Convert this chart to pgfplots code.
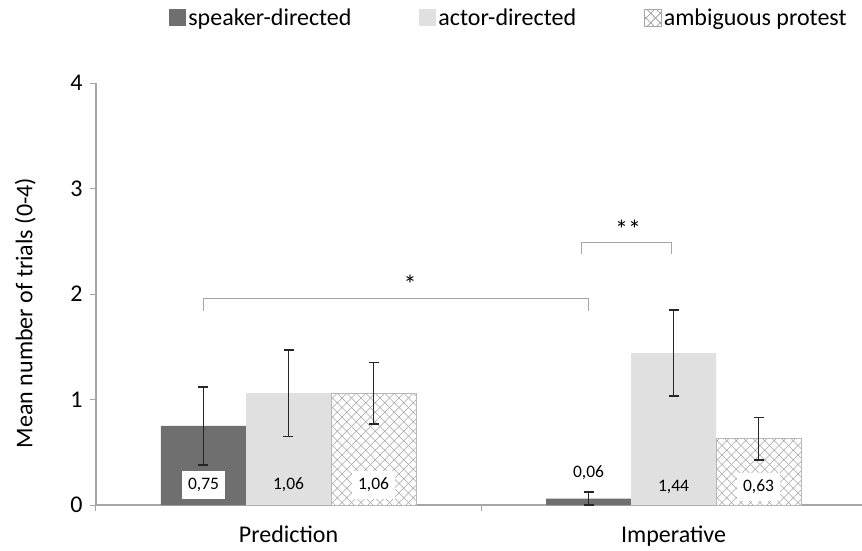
\documentclass[border=0pt]{standalone}
\usepackage{pgfplots}
\pgfplotsset{compat=1.18}
\usepackage{fontspec}
\setmainfont{Carlito}
\usetikzlibrary{patterns}
\pgfdeclarepatternformonly{mycross}{\pgfqpoint{-1pt}{-1pt}}{\pgfqpoint{10.5pt}{10.5pt}}{\pgfqpoint{9.5pt}{9.5pt}}{%
  \pgfsetlinewidth{0.6pt}%
  \pgfpathmoveto{\pgfqpoint{0pt}{0pt}}\pgfpathlineto{\pgfqpoint{9.5pt}{9.5pt}}%
  \pgfpathmoveto{\pgfqpoint{0pt}{9.5pt}}\pgfpathlineto{\pgfqpoint{9.5pt}{0pt}}%
  \pgfusepath{stroke}}
\definecolor{speaker}{HTML}{6F6F6F}
\definecolor{actor}{HTML}{E0E0E0}
\definecolor{axgray}{HTML}{A6A6A6}
\definecolor{hatch}{HTML}{A6A6A6}
\definecolor{errc}{HTML}{262626}
\begin{document}
\begin{tikzpicture}
\begin{axis}[
  at={(0,0)}, anchor=south west,
  width=770pt, height=422pt, scale only axis,
  xmin=-0.5, xmax=1.5, ymin=0, ymax=4,
  ybar=0pt, bar width=85pt,
  axis x line=bottom, axis y line=left,
  axis line style={axgray, line width=1.2pt, -},
  xtick={-0.5,0.5,1.5}, xticklabels={},
  extra x ticks={0,1}, extra x tick labels={Prediction,Imperative},
  extra x tick style={major tick length=0pt},
  ytick={0,1,2,3,4},
  tick style={axgray, line width=1pt},
  tick align=outside, major tick length=6pt,
  /pgf/number format/assume math mode=true,
  ticklabel style={font=\fontsize{24}{28}\selectfont, text=black},
  xticklabel style={yshift=-17pt},
  yticklabel style={xshift=-4pt},
  ylabel={Mean number of trials (0-4)},
  ylabel style={at={(axis description cs:-0.092,0.455)}, anchor=center, rotate=0, font=\fontsize{24}{28}\selectfont},
  legend style={at={(axis description cs:0.095,1.155)}, anchor=west, draw=none, fill=none,
    inner sep=0pt, font=\fontsize{24}{28}\selectfont,
    /tikz/every even column/.append style={column sep=66pt}},
  legend columns=-1,
  error bars/y dir=both, error bars/y explicit,
  error bars/error bar style={line width=1.8pt, errc},
  error bars/error mark options={rotate=90, line width=1.8pt, mark size=5pt, errc},
  clip=false,
]
\addplot[fill=speaker, draw=none,
  legend image code/.code={\fill[speaker] (0pt,-8.5pt) rectangle (17pt,8.5pt);}]
  coordinates {(0,0.75) +- (0,0.37) (1,0.06) +- (0,0.06)};
\addlegendentry{speaker-directed}
\addplot[fill=actor, draw=none,
  legend image code/.code={\fill[actor] (0pt,-8.5pt) rectangle (17pt,8.5pt);}]
  coordinates {(0,1.06) +- (0,0.41) (1,1.44) +- (0,0.41)};
\addlegendentry{actor-directed}
\addplot[fill=white, draw=axgray!80, line width=0.6pt, postaction={pattern=mycross, pattern color=hatch},
  legend image code/.code={\draw[fill=white, draw=axgray, line width=0.6pt, postaction={pattern=mycross, pattern color=hatch}] (0pt,-8.5pt) rectangle (17pt,8.5pt);}]
  coordinates {(0,1.06) +- (0,0.29) (1,0.63) +- (0,0.20)};
\addlegendentry{ambiguous protest}

% data labels
\tikzset{lbl/.style={font=\fontsize{17.5}{20}\selectfont, inner sep=0pt, minimum width=43pt, minimum height=28pt}}
\node[lbl, fill=white, xshift=-85pt] at (axis cs:0,0.19) {0,75};
\node[lbl] at (axis cs:0,0.19) {1,06};
\node[lbl, fill=white, xshift=85pt] at (axis cs:0,0.19) {1,06};
\node[lbl, xshift=-85pt] at (axis cs:1,0.31) {0,06};
\node[lbl] at (axis cs:1,0.17) {1,44};
\node[lbl, fill=white, xshift=85pt] at (axis cs:1,0.17) {0,63};

% significance brackets
\draw[axgray, line width=1.2pt] (axis cs:-0.221,1.84) -- (axis cs:-0.221,1.96) -- (axis cs:0.779,1.96) -- (axis cs:0.779,1.84);
\node[font=\fontsize{26}{30}\selectfont] at (axis cs:0.316,2.09) {*};
\draw[axgray, line width=1.2pt] (axis cs:0.76,2.38) -- (axis cs:0.76,2.486) -- (axis cs:0.995,2.486) -- (axis cs:0.995,2.38);
\node[font=\fontsize{26}{30}\selectfont] at (axis cs:0.882,2.61) {**};
\end{axis}
\pgfresetboundingbox
\path[use as bounding box] (-96pt,-45pt) rectangle (766pt,505pt);
\end{tikzpicture}
\end{document}
